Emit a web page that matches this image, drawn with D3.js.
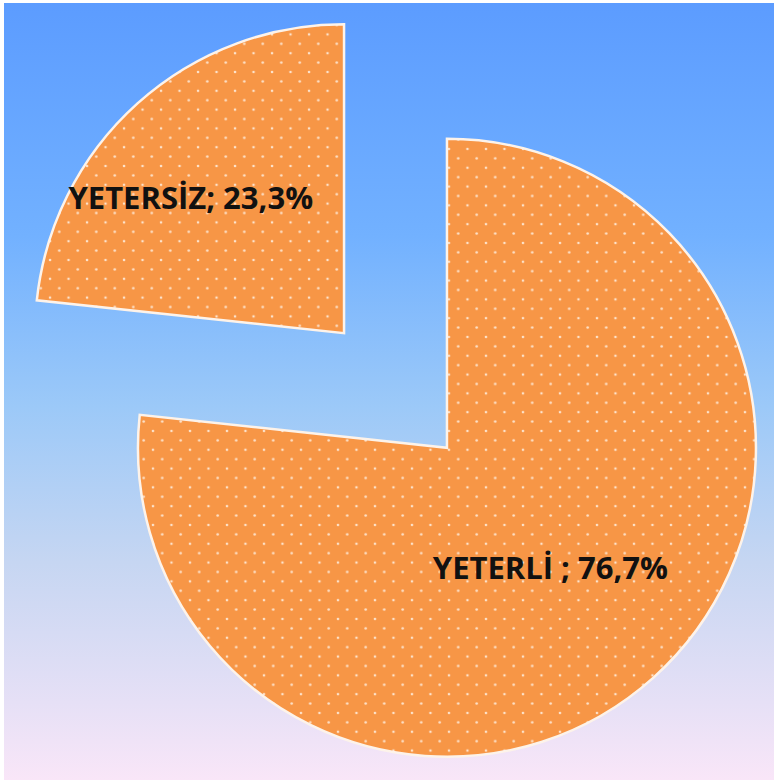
<!DOCTYPE html>
<html>
<head>
<meta charset="utf-8">
<script src="https://cdn.jsdelivr.net/npm/d3@7"></script>
<style>
  html, body { margin: 0; padding: 0; background: #ffffff; }
  svg { display: block; }
</style>
</head>
<body>
<div id="container"></div>
<script>
// data
const categories = ['YETERLİ', 'YETERSİZ'];
const values = [76.7, 23.3];
const labelTexts = ['YETERLİ ; 76,7%', 'YETERSİZ; 23,3%'];

const W = 774, H = 781;
const container = d3.select('#container');

const svg = container
  .append('svg')
  .attr('width', W)
  .attr('height', H);

const defs = svg.append('defs');

// background gradient
const grad = defs.append('linearGradient')
  .attr('id', 'bg')
  .attr('x1', 0).attr('y1', 0).attr('x2', 0).attr('y2', 1);
[[0, '#5c9cff'], [0.3, '#72b1ff'], [0.52, '#9cc9f8'], [0.72, '#c6d6f2'], [0.9, '#e6e0f6'], [1, '#f9e6f8']]
  .forEach(([o, c]) => grad.append('stop').attr('offset', o).attr('stop-color', c));

// dotted fill pattern
const pat = defs.append('pattern')
  .attr('id', 'dots')
  .attr('patternUnits', 'userSpaceOnUse')
  .attr('width', 18.5)
  .attr('height', 18.8);
pat.append('rect').attr('width', 18.5).attr('height', 18.8).attr('fill', '#f79646');
pat.append('circle').attr('cx', 2).attr('cy', 2).attr('r', 1.3).attr('fill', '#fde3cc');
pat.append('circle').attr('cx', 11.25).attr('cy', 11.4).attr('r', 1.3).attr('fill', '#fde3cc');

svg.append('rect')
  .attr('x', 4).attr('y', 3)
  .attr('width', W - 4).attr('height', H - 4)
  .attr('fill', 'url(#bg)');

/*==================================================
    PIE
===================================================*/
const cx = 395.5, cy = 390.5;
const radius = 309;
const explode = 77;

const pie = d3.pie().sort(null).value(d => d);
const arcs = pie(values);
const arc = d3.arc().innerRadius(0).outerRadius(radius);

const g = svg.append('g').attr('transform', `translate(${cx}, ${cy})`);

const offset = d => {
  const a = (d.startAngle + d.endAngle) / 2;
  return [Math.sin(a) * explode, -Math.cos(a) * explode];
};

const slices = g.selectAll('g.slice')
  .data(arcs)
  .enter()
  .append('g')
  .attr('class', 'slice')
  .attr('transform', d => `translate(${offset(d)})`);

slices.append('path')
  .attr('d', arc)
  .attr('fill', 'url(#dots)')
  .attr('stroke', '#fdf3ea')
  .attr('stroke-width', 2.5)
  .attr('stroke-linejoin', 'miter');

// label distance from slice apex, as fraction of radius
const labelFrac = [0.52, 0.66];
const labelShift = [[-4, 0], [-17, 15]];

slices.append('text')
  .attr('x', (d, i) => {
    const a = (d.startAngle + d.endAngle) / 2;
    return Math.sin(a) * radius * labelFrac[i] + labelShift[i][0];
  })
  .attr('y', (d, i) => {
    const a = (d.startAngle + d.endAngle) / 2;
    return -Math.cos(a) * radius * labelFrac[i] + labelShift[i][1];
  })
  .attr('text-anchor', 'middle')
  .attr('dominant-baseline', 'central')
  .attr('font-family', '"Open Sans", sans-serif')
  .attr('font-weight', 'bold')
  .attr('font-size', 31)
  .attr('fill', '#111111')
  .text((d, i) => labelTexts[i]);
</script>
</body>
</html>
